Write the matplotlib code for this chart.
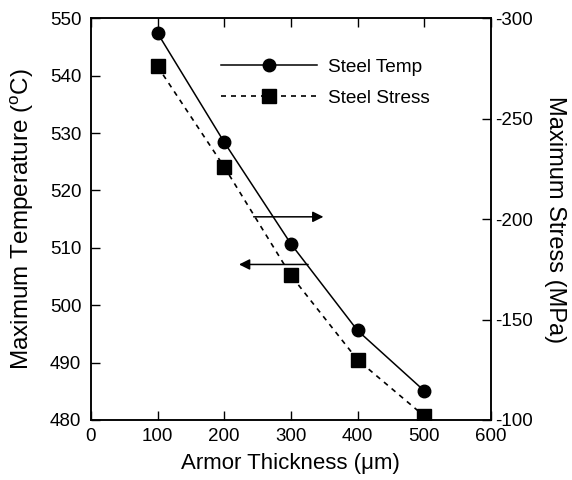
import matplotlib.pyplot as plt

plt.rcParams['font.family'] = ['Liberation Sans', 'DejaVu Sans']
plt.rcParams['mathtext.fontset'] = 'custom'
plt.rcParams['mathtext.rm'] = 'Liberation Sans'
plt.rcParams['axes.unicode_minus'] = False

thickness = [100, 200, 300, 400, 500]
steel_temp = [547.4, 528.4, 510.7, 495.6, 485.1]
steel_stress = [-276, -226, -172, -130, -102]

fig, ax = plt.subplots(figsize=(5.72, 4.8), dpi=100)
fig.subplots_adjust(left=0.159, right=0.858, top=0.962, bottom=0.125)
ax2 = ax.twinx()

l1, = ax.plot(thickness, steel_temp, 'k-', marker='o', markersize=9, lw=1.1, label='Steel Temp')
l2, = ax2.plot(thickness, steel_stress, color='k', ls=(0, (3, 3)), marker='s', markersize=10,
               lw=1.2, label='Steel Stress')

ax.set_xlim(0, 600)
ax.set_ylim(480, 550)
ax2.set_ylim(-100, -300)
ax.set_xticks(range(0, 601, 100))
ax.set_yticks(range(480, 551, 10))
ax2.set_yticks(range(-300, -99, 50))

ax.tick_params(direction='in', length=6.5, width=1, labelsize=13.5, top=True)
ax.tick_params(axis='y', pad=7)
ax.tick_params(axis='x', pad=5.5)
ax2.tick_params(direction='in', length=6.5, width=1, labelsize=13.5, pad=3)
for a in (ax, ax2):
    for s in a.spines.values():
        s.set_linewidth(1.1)

ax.set_xlabel('Armor Thickness (\u03bcm)', fontsize=16, labelpad=6)
ax.set_ylabel('Maximum Temperature ($^{\\rm o}$C)', fontsize=17.5, labelpad=10)
ax2.set_ylabel('Maximum Stress (MPa)', fontsize=17, rotation=270, labelpad=24)

# arrows pointing to the axis each curve belongs to
ax.annotate('', xy=(353, 515.4), xytext=(240, 515.4),
            arrowprops=dict(arrowstyle='-|>', color='k', lw=1.1, mutation_scale=16))
ax.annotate('', xy=(218, 507.1), xytext=(330, 507.1),
            arrowprops=dict(arrowstyle='-|>', color='k', lw=1.1, mutation_scale=16))

ax.legend(handles=[l1, l2], loc='upper left', bbox_to_anchor=(0.325, 0.9),
          frameon=False, fontsize=13.7, numpoints=1, handlelength=5.05,
          handletextpad=0.58, labelspacing=0.74, borderpad=0, borderaxespad=0)

fig.savefig('out.png', dpi=100)
